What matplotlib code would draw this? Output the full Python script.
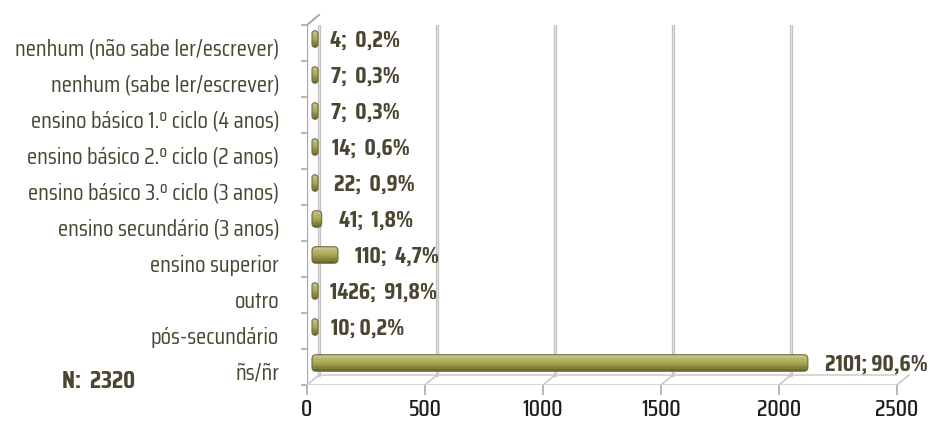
import matplotlib
matplotlib.use("Agg")
import matplotlib.pyplot as plt
from matplotlib.lines import Line2D
from matplotlib.patches import FancyBboxPatch
from matplotlib.transforms import offset_copy, IdentityTransform, ScaledTranslation

categories = ["nenhum (não sabe ler/escrever)", "nenhum (sabe ler/escrever)",
              "ensino básico 1.º ciclo (4 anos)", "ensino básico 2.º ciclo (2 anos)",
              "ensino básico 3.º ciclo (3 anos)", "ensino secundário (3 anos)",
              "ensino superior", "outro", "pós-secundário", "ñs/ñr"]
values = [4, 7, 7, 14, 22, 41, 110, 5, 10, 2101]
value_labels = ["4;  0,2%", "7;  0,3%", "7;  0,3%", "14;  0,6%", "22;  0,9%",
                "41;  1,8%", "110;  4,7%", "1426;  91,8%", "10; 0,2%", "2101; 90,6%"]
xticks = [0, 500, 1000, 1500, 2000, 2500]
n_text = "N:  2320"

plt.rcParams['font.family'] = ['Saira Extra Condensed', 'Saira Condensed',
                               'Barlow Condensed', 'DejaVu Sans']
TXT = '#4A4631'
GRID = '#C4C4C4'

W, H = 933, 424
fig = plt.figure(figsize=(W / 100, H / 100), dpi=100)
# front plane of the 3D box, in pixels
x0, x1, ytop, ybot = 307, 897, 25, 385
ax = fig.add_axes([x0 / W, (H - ybot) / H, (x1 - x0) / W, (ybot - ytop) / H])
ax.set_xlim(0, 2500)
n = len(categories)
ax.set_ylim(n - 0.5, -0.5)
for s in ax.spines.values():
    s.set_visible(False)
ax.patch.set_alpha(0)

dx_back, dy_back = 12, 10
dx_bar, dy_bar = 5, 4

# back wall gridlines
back = offset_copy(ax.transData, fig=fig, x=dx_back, y=dy_back, units='dots')
for t in xticks:
    ax.plot([t, t], [n - 0.5, -0.5], color=GRID, lw=2.4, transform=back,
            solid_capstyle='round', zorder=1)
    ax.plot([t, t], [n - 0.5, -0.5], color='#E4E4E4', lw=0.6, transform=back, zorder=1)
ax.plot([0, 2500], [n - 0.5, n - 0.5], color='#D0D0D0', lw=1.2, transform=back, zorder=1)

# front left axis and floor
ax.plot([0, 0], [n - 0.5, -0.5], color='#A8A8A8', lw=1.6, zorder=2)
ax.plot([0, 2500], [n - 0.5, n - 0.5], color='#D0D0D0', lw=1.2, zorder=2)

fig.canvas.draw()
for t in xticks:
    px, py = ax.transData.transform((t, n - 0.5))
    fig.add_artist(Line2D([px, px + dx_back], [py, py + dy_back], color='#C8C8C8',
                          lw=1.2, transform=IdentityTransform()))
px, py = ax.transData.transform((0, -0.5))
fig.add_artist(Line2D([px, px + dx_back], [py, py + dy_back], color='#A8A8A8',
                      lw=1.4, transform=IdentityTransform()))

# bars: capsule-shaped cylinders with a vertical gradient
front_bar = offset_copy(ax.transData, fig=fig, x=dx_bar, y=dy_bar, units='dots')
ypos = list(range(n))
bh = 0.46
shades = ['#C6C486', '#BDBA72', '#B2AF62', '#A6A354', '#999648', '#86833C', '#6A6730']
caps = []
for y, v in zip(ypos, values):
    xa, ya = front_bar.transform((0, y + bh / 2))
    xb, yb = front_bar.transform((v, y - bh / 2))
    w = max(xb - xa, 6)
    r = min(4, w / 2)
    caps.append(FancyBboxPatch((xa, ya), w, yb - ya,
                               boxstyle=f"round,pad=0,rounding_size={r}",
                               transform=IdentityTransform()))
    fig.add_artist(FancyBboxPatch((xa, ya), w, yb - ya,
                                  boxstyle=f"round,pad=0,rounding_size={r}",
                                  facecolor='none', edgecolor='#6E6B3E', lw=0.8,
                                  transform=IdentityTransform(), zorder=5))
strip_w = [max(v, 30) for v in values]
k = len(shades)
for i, c in enumerate(shades):
    yy = [y - bh / 2 + (i + 0.5) * bh / k for y in ypos]
    bars = ax.barh(yy, strip_w, height=bh / k * 1.05, color=c, transform=front_bar, zorder=3)
    for b, cp in zip(bars, caps):
        b.set_clip_path(cp)

# value labels
lab_tr = offset_copy(ax.transData, fig=fig, x=22, y=2, units='dots')
for y, v, s in zip(ypos, values, value_labels):
    ax.text(v, y, s, transform=lab_tr, ha='left', va='center', fontsize=17,
            fontweight='bold', color=TXT, zorder=8)

# ticks
ax.set_xticks(xticks)
ax.set_xticklabels([str(t) for t in xticks], fontsize=17, color='#1E1E1E',
                   fontweight='medium')
ax.tick_params(axis='x', length=7, width=1.2, color='#A8A8A8', pad=3)
ax.set_yticks(ypos)
ax.set_yticklabels(categories, fontsize=17, color=TXT)
ax.tick_params(axis='y', length=0, pad=20)
ax.set_yticks([y + 0.5 for y in range(-1, n)], minor=True)
ax.tick_params(axis='y', which='minor', length=4, width=1.2, color='#A8A8A8')
for lbl in ax.get_yticklabels():
    lbl.set_transform(lbl.get_transform() + ScaledTranslation(0, -4 / 100, fig.dpi_scale_trans))

fig.text(62 / W, 1 - 381 / H, n_text, ha='left', va='center', fontsize=18,
         fontweight='bold', color=TXT)

fig.savefig("out.png", dpi=100)
